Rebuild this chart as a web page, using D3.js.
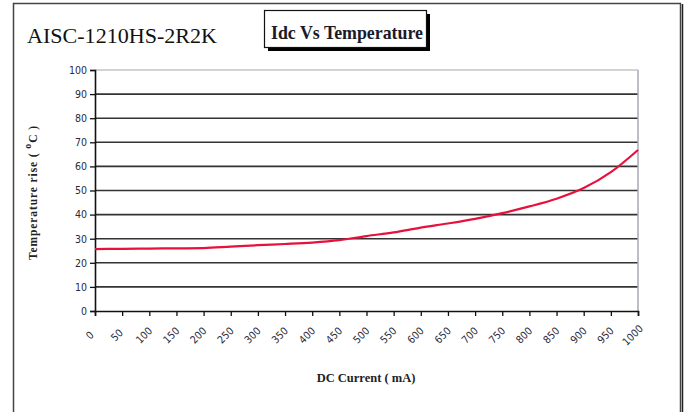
<!DOCTYPE html>
<html>
<head>
<meta charset="utf-8">
<script src="https://cdn.jsdelivr.net/npm/d3@7"></script>
<style>
	body { margin: 0; background: #fff; }
	svg { display: block; }
</style>
</head>
<body>
<div id="chart"></div>
<script>
(function() {
	'use strict';

	var currents = [0, 50, 100, 150, 200, 250, 300, 350, 400, 450, 500,
		550, 600, 650, 700, 750, 800, 850, 900, 950, 1000];
	var tempRise = [25.7, 25.8, 25.9, 26.0, 26.1, 26.7, 27.3, 27.8, 28.4, 29.4, 31.1,
		32.6, 34.6, 36.3, 38.2, 40.6, 43.4, 46.6, 51.0, 57.6, 66.8];
	var yTicks = [0, 10, 20, 30, 40, 50, 60, 70, 80, 90, 100];

	var width = 684,
		height = 412,
		plot = { left: 95, right: 638, top: 70, bottom: 311 },
		tickFont = '"DejaVu Sans Condensed", "DejaVu Sans", sans-serif',
		serif = '"Liberation Serif", "Times New Roman", serif';

	var svg = d3.select('#chart').append('svg')
		.attr('width', width)
		.attr('height', height);

	// outer frame
	svg.append('rect')
		.attr('x', 13.5).attr('y', 3.5)
		.attr('width', 667).attr('height', 420)
		.attr('fill', 'none')
		.attr('stroke', '#444')
		.attr('stroke-width', 1.5);
	svg.append('line')
		.attr('x1', 682.5).attr('x2', 682.5)
		.attr('y1', 4).attr('y2', height)
		.attr('stroke', '#222')
		.attr('stroke-width', 1.5);

	svg.append('text')
		.attr('x', 27).attr('y', 43)
		.attr('font-family', serif)
		.attr('font-size', 21)
		.attr('textLength', 190)
		.attr('lengthAdjust', 'spacingAndGlyphs')
		.attr('fill', '#111')
		.text('AISC-1210HS-2R2K');

	// title box with shadow
	svg.append('rect')
		.attr('x', 268).attr('y', 14)
		.attr('width', 162).attr('height', 37)
		.attr('fill', '#000');
	svg.append('rect')
		.attr('x', 264.5).attr('y', 10.5)
		.attr('width', 162).attr('height', 37)
		.attr('fill', '#fff')
		.attr('stroke', '#111')
		.attr('stroke-width', 1.2);
	svg.append('text')
		.attr('x', 271).attr('y', 39)
		.attr('font-family', serif)
		.attr('font-weight', 'bold')
		.attr('font-size', 19)
		.attr('textLength', 152)
		.attr('lengthAdjust', 'spacingAndGlyphs')
		.attr('fill', '#1a1a2a')
		.text('Idc Vs Temperature');

	var x = d3.scaleLinear().domain([0, 1000]).range([plot.left, plot.right]);
	var y = d3.scaleLinear().domain([0, 100]).range([plot.bottom, plot.top]);

	// grid lines
	svg.append('g')
		.selectAll('line')
		.data(yTicks.filter(function(d) { return d > 0; }))
		.enter()
		.append('line')
		.attr('x1', plot.left).attr('x2', plot.right)
		.attr('y1', function(d) { return y(d); })
		.attr('y2', function(d) { return y(d); })
		.attr('stroke', function(d) { return d === 100 ? '#a8a8b0' : '#333'; })
		.attr('stroke-width', function(d) { return d === 100 ? 1.2 : 1.6; });

	svg.append('line')
		.attr('x1', plot.right).attr('x2', plot.right)
		.attr('y1', plot.top).attr('y2', plot.bottom)
		.attr('stroke', '#a8a8b8')
		.attr('stroke-width', 1.5);

	var yAxis = svg.append('g')
		.attr('transform', 'translate(' + plot.left + ',0)')
		.call(d3.axisLeft(y).tickValues(yTicks).tickSize(5).tickPadding(3));

	var xAxis = svg.append('g')
		.attr('transform', 'translate(0,' + plot.bottom + ')')
		.call(d3.axisBottom(x).tickValues(currents).tickSize(5).tickFormat(d3.format('d')));

	[yAxis, xAxis].forEach(function(ax) {
		ax.select('.domain').attr('stroke', '#111').attr('stroke-width', 1.6);
		ax.selectAll('.tick line').attr('stroke', '#111').attr('stroke-width', 1.3);
		ax.selectAll('text')
			.attr('font-family', tickFont)
			.attr('font-size', 10.5)
			.attr('fill', '#2a2a3a');
	});

	xAxis.selectAll('text')
		.attr('text-anchor', 'middle')
		.attr('dy', null)
		.attr('y', null)
		.attr('transform', 'translate(-6,24) rotate(-45)')
		.attr('dominant-baseline', 'central');

	// curve
	var line = d3.line()
		.x(function(d, i) { return x(currents[i]); })
		.y(function(d) { return y(d); })
		.curve(d3.curveMonotoneX);

	svg.append('path')
		.datum(tempRise)
		.attr('d', line)
		.attr('fill', 'none')
		.attr('stroke', '#e8103c')
		.attr('stroke-width', 2.2);

	// axis titles
	var yTitle = svg.append('text')
		.attr('transform', 'translate(37,' + ((plot.top + plot.bottom) / 2 + 2) + ') rotate(-90)')
		.attr('text-anchor', 'middle')
		.attr('font-family', serif)
		.attr('font-weight', 'bold')
		.attr('font-size', 11.5)
		.attr('letter-spacing', 0.9)
		.attr('fill', '#222');
	yTitle.append('tspan').text('Temperature rise ( ');
	yTitle.append('tspan').attr('dy', -6).attr('font-size', 10).text('o');
	yTitle.append('tspan').attr('dy', 6).text('C )');

	svg.append('text')
		.attr('x', 366).attr('y', 382)
		.attr('text-anchor', 'middle')
		.attr('font-family', serif)
		.attr('font-weight', 'bold')
		.attr('font-size', 12.5)
		.attr('fill', '#222')
		.text('DC Current ( mA)');
})();
</script>
</body>
</html>
